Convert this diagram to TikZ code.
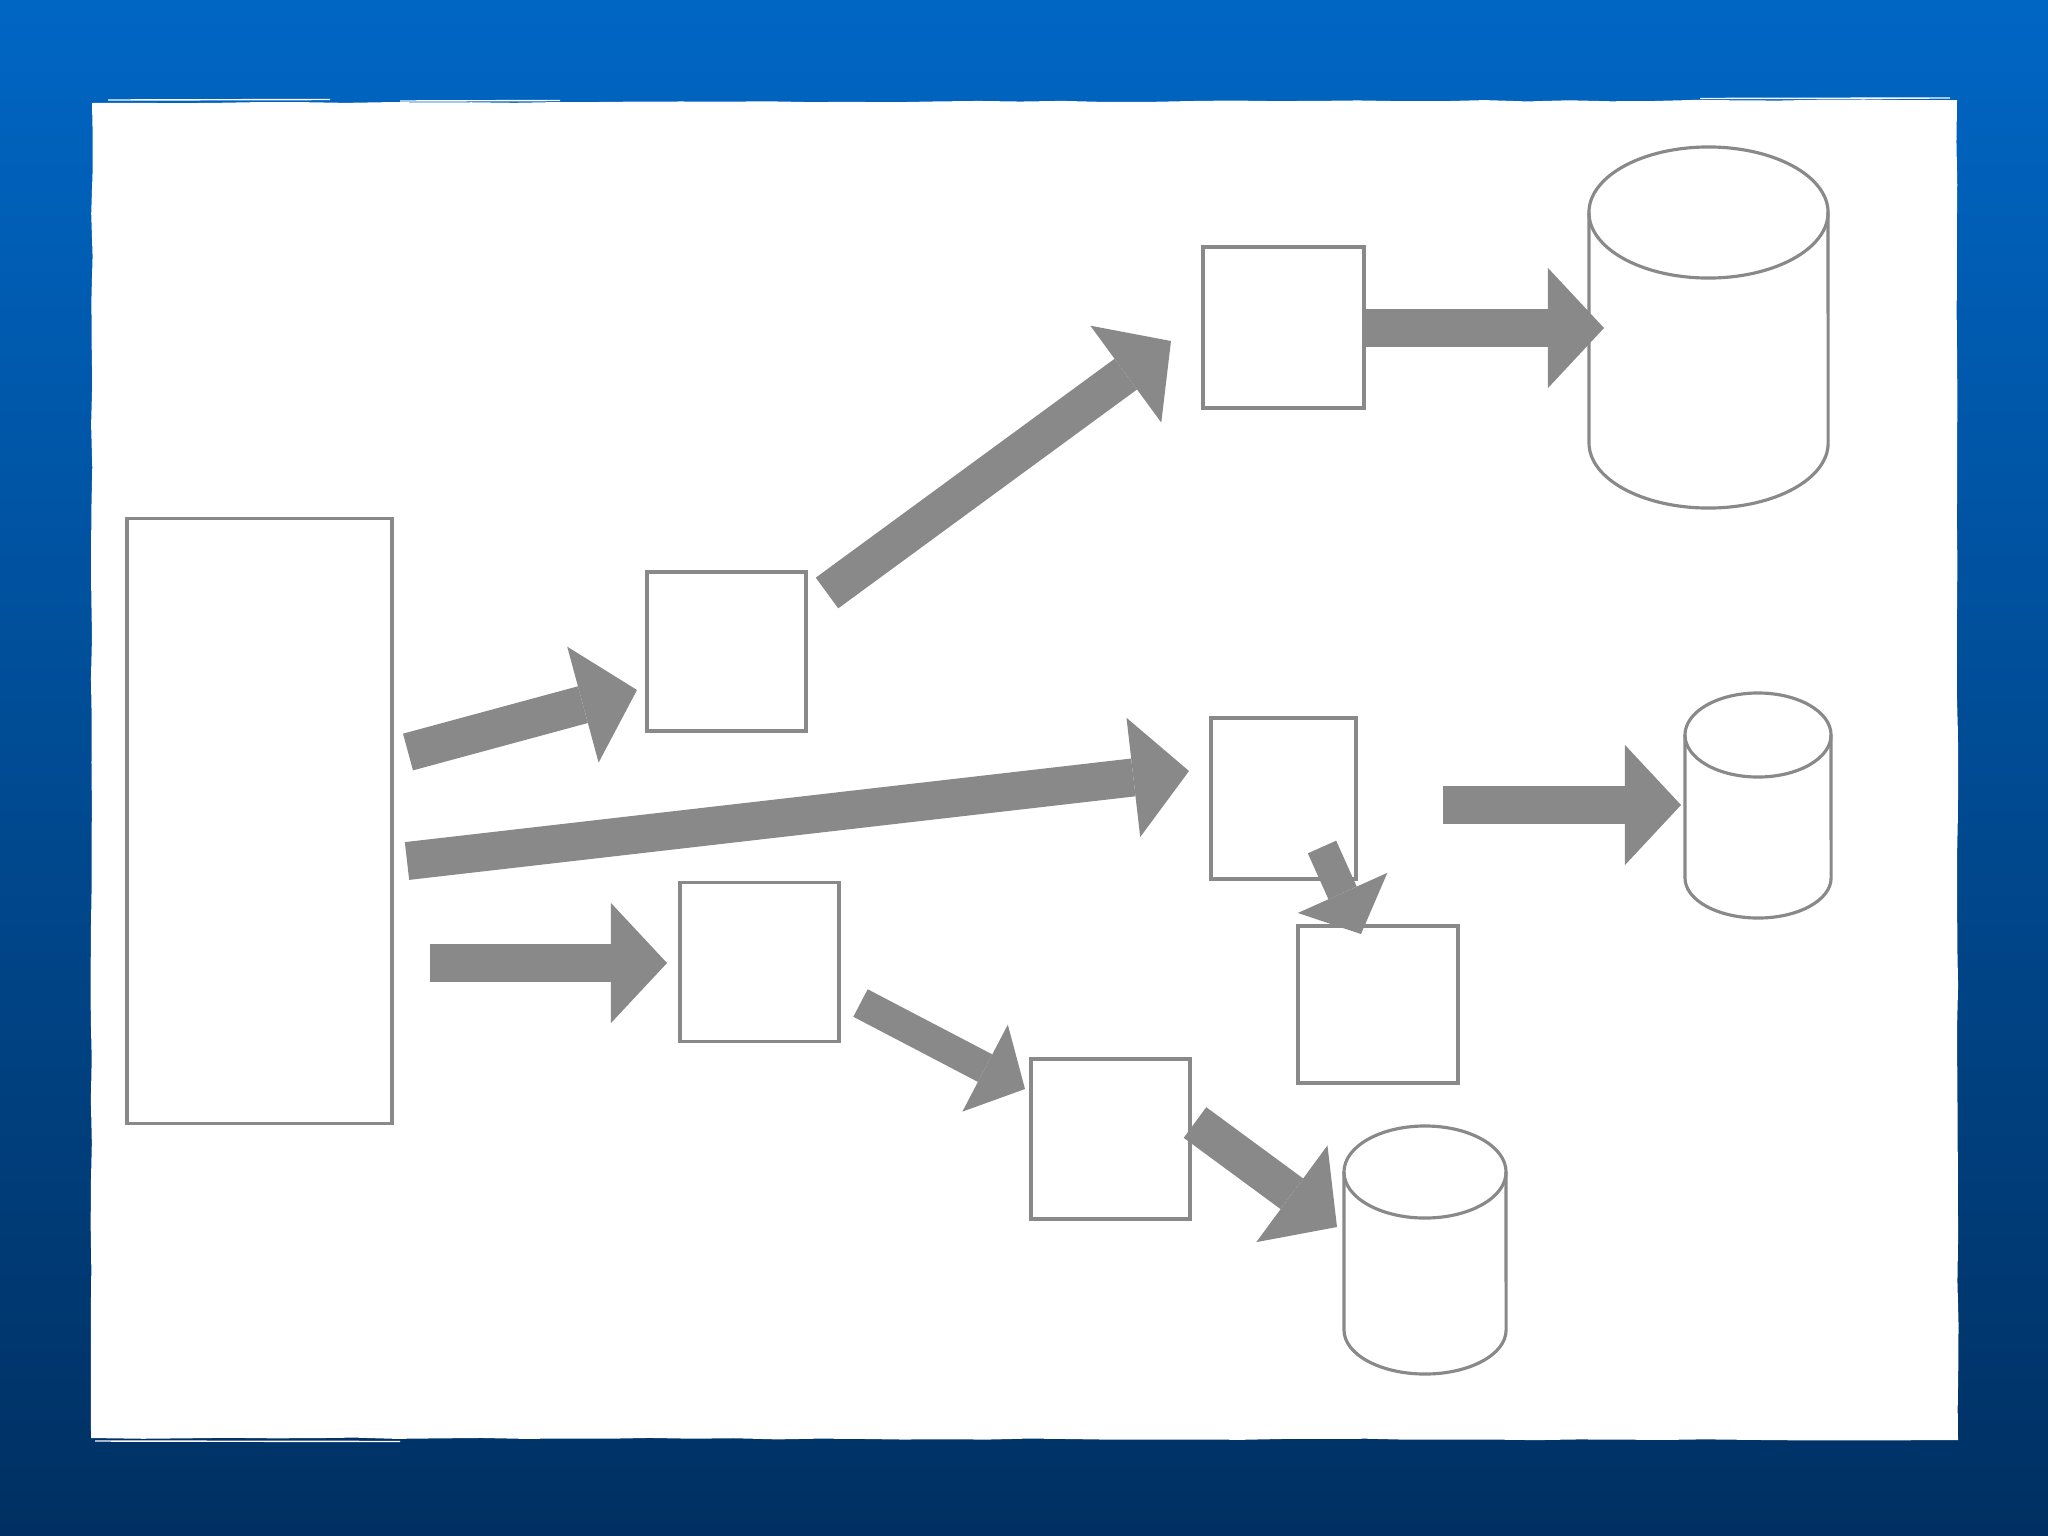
\documentclass[tikz,border=0pt]{standalone}
\usetikzlibrary{arrows.meta,decorations.pathmorphing}
\definecolor{flowgray}{RGB}{137,137,137}
\definecolor{slidetop}{RGB}{0,102,196}
\definecolor{slidebot}{RGB}{0,48,98}
\tikzset{
  stage/.style={draw=flowgray,line width=0.9pt,inner sep=0pt,minimum width=1.59cm,minimum height=1.59cm},
  flow/.style={draw=flowgray,line width=3.8mm,-{Triangle[length=5.6mm,width=12mm,line width=0pt]}},
  flowsmall/.style={draw=flowgray,line width=3.1mm,-{Triangle[length=4.5mm,width=9.8mm,line width=0pt]}},
  dbline/.style={draw=flowgray,line width=0.9pt}
}
\begin{document}
\begin{tikzpicture}[x=0.01cm,y=-0.01cm]
\shade[top color=slidetop,bottom color=slidebot] (0,0) rectangle (2048,1536);
\useasboundingbox (0,0) rectangle (2048,1536);
\pgfmathsetseed{7}
\fill[white,decorate,decoration={random steps,segment length=12pt,amplitude=0.2pt}] (92,103) -- (1957,100) -- (1958,1440) -- (91,1438) -- cycle;
\draw[white,line width=0.4pt] (108,100) -- (330,99.5);
\draw[white,line width=0.4pt] (400,101) -- (560,100.5);
\draw[white,line width=0.4pt] (1700,98.5) -- (1950,98);
\draw[white,line width=0.4pt] (95,1441) -- (400,1441.5);

\node[stage,minimum width=2.65cm,minimum height=6.04cm] (source) at (259.5,821) {};
\node[stage] (split) at (726.5,651.5) {};
\node[stage,minimum width=1.61cm,minimum height=1.61cm] (upper) at (1283.5,327.5) {};
\node[stage,minimum width=1.45cm,minimum height=1.61cm] (middle) at (1283.5,798.5) {};
\node[stage,minimum width=1.6cm,minimum height=1.57cm] (merge) at (1378,1004.5) {};
\node[stage] (lowa) at (759.5,962) {};
\node[stage,minimum width=1.59cm,minimum height=1.6cm] (lowb) at (1110.5,1139) {};

\draw[dbline] (1589,212.5) -- (1589,443) arc[start angle=180,end angle=360,x radius=1.195cm,y radius=0.65cm] -- (1828,212.5);
\draw[dbline] (1708.5,212.5) ellipse[x radius=1.195cm,y radius=0.655cm];
\draw[dbline] (1685,735) -- (1685,878) arc[start angle=180,end angle=360,x radius=0.73cm,y radius=0.4cm] -- (1831,735);
\draw[dbline] (1758,735) ellipse[x radius=0.73cm,y radius=0.42cm];
\draw[dbline] (1344,1172) -- (1344,1330) arc[start angle=180,end angle=360,x radius=0.81cm,y radius=0.44cm] -- (1506,1172);
\draw[dbline] (1425,1172) ellipse[x radius=0.81cm,y radius=0.46cm];

\coordinate (s1) at (408,752);    \coordinate (t1) at (637,690);
\coordinate (s2) at (827,593);    \coordinate (t2) at (1171,341);
\coordinate (s3) at (1364,328);   \coordinate (t3) at (1604,328);
\coordinate (s4) at (407,861);    \coordinate (t4) at (1189,771);
\coordinate (s5) at (1443,805);   \coordinate (t5) at (1681,805);
\coordinate (s6) at (430,963);    \coordinate (t6) at (667,963);
\coordinate (s7) at (860.5,1003); \coordinate (t7) at (1025,1089);
\coordinate (s8) at (1195,1122.5);\coordinate (t8) at (1337,1227);
\coordinate (s9) at (1322,847);   \coordinate (t9) at (1361,934);

\draw[flow] (s1) -- (t1);
\draw[flow] (s2) -- (t2);
\draw[flow] (s3) -- (t3);
\draw[flow] (s4) -- (t4);
\draw[flow] (s5) -- (t5);
\draw[flow] (s6) -- (t6);
\draw[flowsmall] (s7) -- (t7);
\draw[flow] (s8) -- (t8);
\draw[flowsmall] (s9) -- (t9);
\end{tikzpicture}
\end{document}
